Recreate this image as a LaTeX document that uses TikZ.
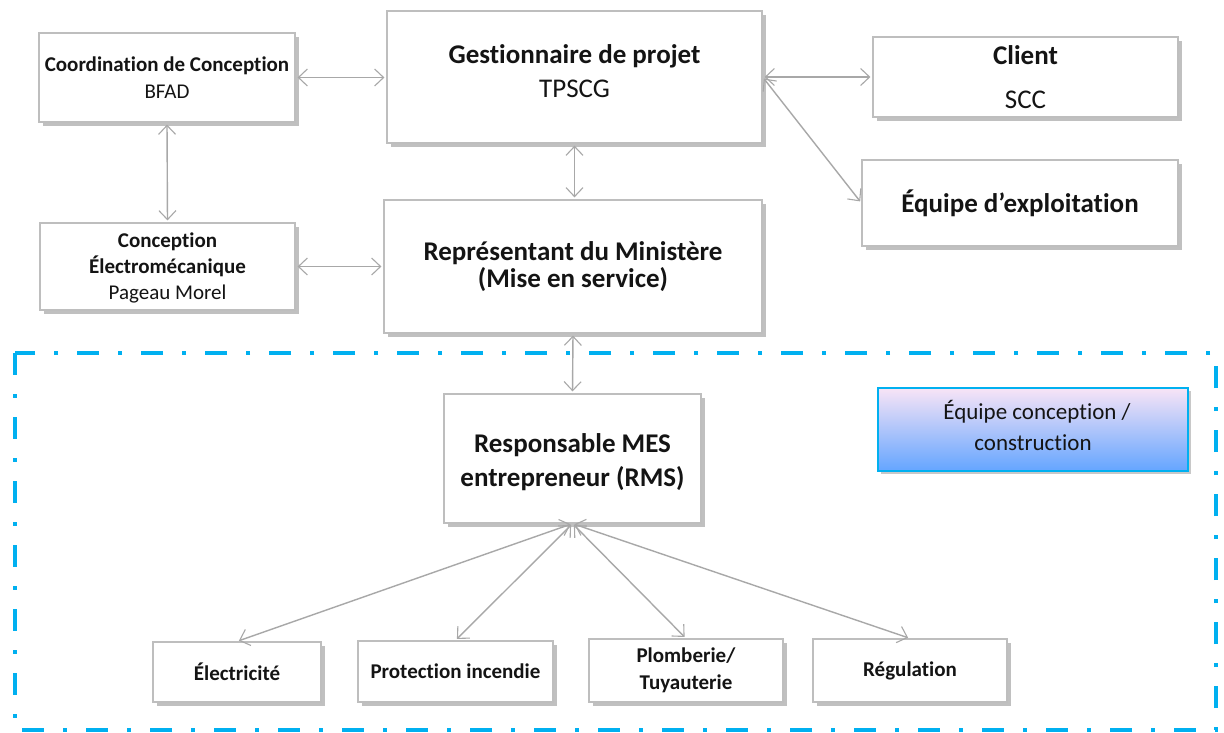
\documentclass[tikz,border=0pt]{standalone}
\usepackage{fontspec}
\setmainfont{Carlito}[Ligatures=NoCommon]
\usetikzlibrary{arrows.meta,shadows}
\definecolor{boxline}{RGB}{190,190,190}
\definecolor{arrowgray}{RGB}{168,168,168}
\definecolor{frameblue}{RGB}{0,176,240}
\definecolor{topPink}{RGB}{248,228,246}
\definecolor{midBlue}{RGB}{160,205,248}
\definecolor{botBlue}{RGB}{100,165,255}
\newcommand{\shiftlines}[2]{\raisebox{#1}[\height][\depth]{\begin{tabular}{@{}c@{}}#2\end{tabular}}}
\tikzset{
  orgbox/.style={draw=boxline, line width=1.2pt, fill=white, align=center,
    inner sep=2pt, text=black!92,
    drop shadow={shadow xshift=3.5pt, shadow yshift=-4pt, fill=black!70, opacity=0.35}},
  link/.style={draw=arrowgray, line width=1.4pt,
    {Straight Barb[length=9pt,width=17pt,line width=1.1pt]}-{Straight Barb[length=9pt,width=17pt,line width=1.1pt]},
    shorten <=2pt, shorten >=2pt},
  legendbox/.style={draw=frameblue, line width=1.6pt, align=center, text=black!92,
    top color=topPink, middle color=midBlue, bottom color=botBlue,
    drop shadow={shadow xshift=3pt, shadow yshift=-3pt, fill=black!70, opacity=0.3}},
  big/.style={font=\fontsize{27}{34}\selectfont},
  small/.style={font=\fontsize{21}{27}\selectfont},
}
\begin{document}
\begin{tikzpicture}[x=1pt,y=-1pt]
\useasboundingbox (0,0) rectangle (1224,733);
\fill[white] (0,0) rectangle (1224,733);

% dash-dot frame
\draw[frameblue, line width=4pt, dash pattern=on 22pt off 19pt on 4pt off 19pt]
  (15,353) rectangle (1216,730);

\node[orgbox, small, minimum width=256pt, minimum height=89pt] (coord) at (167,77.5)
  {\textbf{Coordination de Conception}\\ BFAD};
\node[orgbox, big, minimum width=375pt, minimum height=132pt] (gest) at (574.5,77)
  {\shiftlines{3pt}{\textbf{Gestionnaire de projet}\\ TPSCG}};
\node[orgbox, font=\fontsize{27}{44}\selectfont, minimum width=305pt, minimum height=80pt] (client) at (1025.5,77)
  {\textbf{Client}\\ SCC};
\node[orgbox, big, minimum width=316pt, minimum height=86pt] (exploit) at (1020,203)
  {\textbf{Équipe d’exploitation}};
\node[orgbox, font=\fontsize{21}{26}\selectfont, minimum width=255pt, minimum height=87pt] (conc) at (167.5,266.5)
  {\shiftlines{-2pt}{\textbf{Conception}\\ \textbf{Électromécanique}\\ Pageau Morel}};
\node[orgbox, font=\fontsize{27}{27}\selectfont, minimum width=378pt, minimum height=133pt] (repr) at (573,266.5)
  {\textbf{Représentant du Ministère}\\ \textbf{(Mise en service)}};
\node[orgbox, big, minimum width=257pt, minimum height=129pt] (resp) at (572.5,458.5)
  {\shiftlines{-4pt}{\textbf{Responsable MES}\\ \textbf{entrepreneur (RMS)}}};
\node[orgbox, small, minimum width=168pt, minimum height=60pt] (elec) at (237,672)
  {\textbf{Électricité}};
\node[orgbox, small, minimum width=195pt, minimum height=61pt] (prot) at (455.5,671.5)
  {\textbf{Protection incendie}};
\node[orgbox, small, minimum width=194pt, minimum height=63pt] (plomb) at (686,670.5)
  {\textbf{Plomberie/}\\ \textbf{Tuyauterie}};
\node[orgbox, small, minimum width=194pt, minimum height=63pt] (regul) at (910,670.5)
  {\textbf{Régulation}};
\node[legendbox, font=\fontsize{23}{31}\selectfont, minimum width=310pt, minimum height=83pt] (legend) at (1033,429.5)
  {\shiftlines{1pt}{\hspace{8pt}Équipe conception /\\ construction}};

% connectors
\draw[link] (coord.east) -- (coord.east -| gest.west);
\draw[link] (coord.south) -- (conc.north);
\draw[link] (conc.east) -- (conc.east -| repr.west);
\draw[link] (gest.south) -- (gest.south |- repr.north);
\draw[link] (gest.east) -- (gest.east -| client.west);
\draw[link] (gest.east) -- (exploit.west);
\draw[link] (repr.south) -- (resp.north);
\draw[link] (resp.south) -- (elec.north);
\draw[link] (resp.south) -- (prot.north);
\draw[link] (resp.south) -- (plomb.north);
\draw[link] (resp.south) -- (regul.north);
\end{tikzpicture}
\end{document}
